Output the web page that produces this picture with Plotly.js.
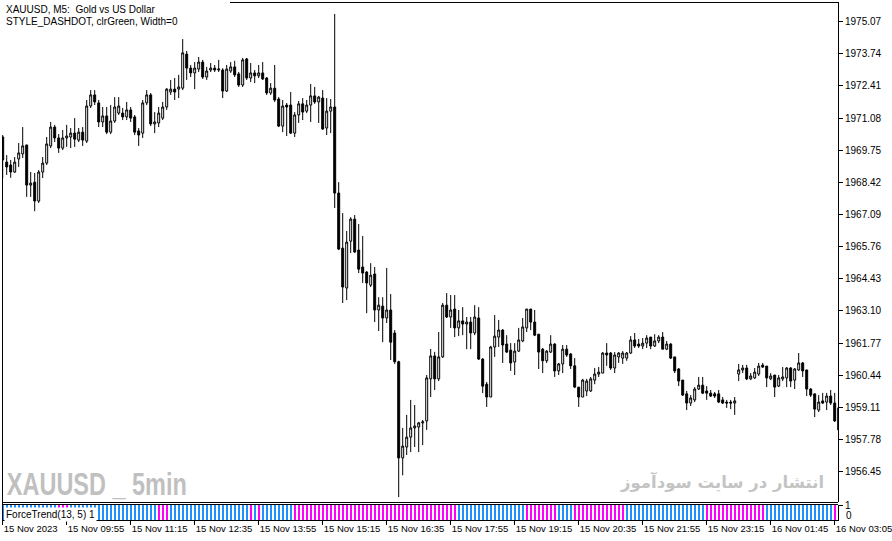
<!DOCTYPE html>
<html><head><meta charset="utf-8">
<script src="https://cdn.plot.ly/plotly-3.0.1.min.js"></script>
<style>html,body{margin:0;padding:0;background:#fff}#chart{width:892px;height:541px}</style>
</head><body><div id="chart"></div><script>
// ---- data (XAUUSD M5) ----
const openP = [
1970.30,1969.26,1969.14,1968.85,1969.39,1969.60,1969.97,1968.31,1968.43,1967.65,
1968.85,1969.22,1969.93,1970.71,1970.26,1969.84,1970.26,1970.30,1970.46,1970.17,
1970.50,1970.13,1971.58,1972.04,1971.71,1970.92,1971.17,1970.50,1970.96,1971.29,
1971.29,1971.13,1971.42,1971.13,1970.55,1970.46,1971.71,1972.04,1970.84,1970.88,
1971.08,1971.54,1972.16,1972.28,1972.28,1972.32,1973.73,1973.15,1972.95,1973.11,
1973.40,1972.78,1973.07,1973.15,1973.07,1973.07,1972.20,1973.03,1973.20,1972.91,
1972.45,1973.53,1972.74,1972.95,1972.83,1972.95,1972.74,1972.12,1972.32,1971.87,
1970.75,1971.62,1971.62,1970.46,1971.21,1971.67,1971.37,1971.62,1972.00,1971.75,
1971.91,1970.67,1971.37,1971.54,1967.98,1965.70,1964.05,1965.99,1966.90,1965.62,
1964.92,1964.71,1964.17,1964.63,1963.14,1963.30,1962.81,1963.14,1962.19,1961.00,
1957.02,1957.47,1957.88,1958.26,1958.30,1958.47,1958.55,1960.29,1961.24,1960.29,
1961.20,1963.34,1962.85,1963.18,1962.40,1962.69,1962.56,1962.64,1962.19,1962.81,
1961.11,1960.07,1959.54,1961.61,1962.02,1962.31,1961.73,1961.48,1960.99,1961.44,
1961.86,1962.40,1963.18,1962.64,1962.14,1961.52,1961.04,1961.40,1961.73,1960.62,
1960.91,1961.52,1961.32,1960.83,1959.95,1959.54,1959.79,1959.79,1960.24,1960.49,
1960.53,1961.36,1961.36,1960.74,1961.20,1961.15,1961.15,1961.36,1961.90,1961.73,
1961.65,1961.77,1962.02,1961.65,1961.86,1962.02,1961.52,1961.73,1961.20,1960.70,
1960.24,1959.67,1959.29,1959.42,1959.87,1960.03,1959.79,1959.70,1959.67,1959.67,
1959.42,1959.33,1959.33,1959.29,1960.49,1960.66,1960.74,1960.29,1960.33,1960.49,
1960.86,1960.82,1960.29,1960.45,1959.99,1960.29,1960.33,1960.74,1960.24,1960.66,
1960.95,1960.66,1959.87,1959.67,1959.00,1959.38,1959.33,1959.58,1959.29,1959.09];
const highP = [
1970.38,1969.55,1969.35,1969.47,1970.05,1970.71,1969.97,1968.85,1968.81,1968.93,
1969.47,1970.30,1970.92,1970.80,1970.42,1970.59,1970.80,1970.67,1971.08,1970.67,
1970.71,1971.83,1972.24,1972.24,1971.83,1971.54,1971.54,1971.62,1971.95,1971.95,
1971.50,1971.75,1971.54,1971.21,1970.67,1971.83,1972.24,1972.12,1971.33,1971.54,
1971.75,1972.32,1972.66,1972.74,1972.87,1974.35,1973.86,1973.28,1973.40,1973.61,
1973.49,1973.20,1973.36,1973.28,1973.49,1973.15,1973.28,1973.40,1973.45,1972.99,
1973.57,1973.57,1973.36,1973.07,1973.28,1973.40,1972.78,1972.53,1973.28,1971.95,
1971.83,1971.71,1972.16,1971.33,1971.79,1971.91,1971.83,1972.49,1972.37,1972.00,
1972.24,1971.91,1971.87,1975.39,1968.43,1967.15,1966.41,1966.98,1967.07,1966.70,
1966.20,1964.75,1965.08,1964.92,1963.67,1963.67,1964.88,1963.80,1962.31,1961.04,
1958.26,1958.80,1959.42,1959.21,1958.51,1958.59,1960.45,1961.53,1961.41,1962.23,
1963.43,1963.84,1963.76,1963.76,1963.14,1963.26,1962.85,1962.85,1963.34,1963.26,
1961.15,1960.16,1961.65,1962.93,1962.73,1962.35,1962.10,1961.77,1961.77,1962.40,
1962.81,1963.18,1963.18,1963.14,1962.14,1961.57,1961.48,1962.10,1961.77,1960.95,
1961.69,1961.69,1961.36,1961.15,1959.95,1960.29,1960.29,1960.37,1960.74,1960.78,
1961.40,1961.77,1961.40,1961.40,1961.40,1961.44,1961.40,1962.06,1962.19,1961.94,
1961.98,1962.10,1962.02,1962.14,1962.10,1962.23,1961.86,1961.77,1961.20,1960.74,
1960.24,1959.79,1959.62,1959.95,1960.37,1960.37,1959.99,1959.83,1959.75,1959.83,
1959.54,1959.42,1959.42,1959.54,1960.91,1960.87,1960.87,1960.53,1960.74,1960.95,
1960.95,1960.82,1960.53,1960.45,1960.45,1960.78,1960.78,1960.78,1960.74,1961.36,
1960.99,1960.66,1959.91,1959.67,1959.62,1959.71,1959.71,1959.83,1959.71,1959.13];
const lowP = [
1968.60,1968.73,1968.61,1968.81,1969.06,1969.43,1967.82,1967.82,1967.23,1967.57,
1968.60,1969.14,1969.84,1970.09,1969.64,1969.76,1969.89,1969.84,1969.89,1970.09,
1969.93,1970.05,1971.50,1971.62,1970.71,1970.71,1970.42,1970.42,1970.88,1971.21,
1971.00,1971.00,1970.92,1970.38,1969.93,1970.26,1971.62,1970.75,1970.46,1970.71,
1971.00,1971.42,1972.04,1971.83,1971.91,1972.24,1972.66,1972.78,1972.28,1972.99,
1972.70,1972.66,1972.99,1972.99,1972.99,1971.91,1972.16,1972.95,1972.78,1972.37,
1972.37,1972.66,1972.57,1972.53,1972.74,1972.66,1972.04,1972.04,1971.75,1970.71,
1970.50,1970.34,1970.42,1970.30,1970.88,1971.00,1971.29,1970.92,1971.67,1970.88,
1970.59,1970.38,1970.46,1967.36,1965.62,1963.43,1963.55,1965.50,1965.50,1964.67,
1964.26,1963.01,1964.09,1962.64,1962.27,1961.81,1962.60,1961.07,1960.91,1955.40,
1956.30,1957.14,1957.26,1957.47,1957.26,1957.55,1958.18,1959.54,1959.83,1960.20,
1961.16,1962.81,1962.40,1962.02,1962.06,1962.10,1961.52,1961.52,1962.10,1961.07,
1959.70,1959.13,1959.54,1961.20,1961.61,1960.95,1961.36,1960.62,1960.45,1961.40,
1961.81,1962.23,1962.31,1962.06,1960.70,1960.53,1960.95,1961.36,1960.37,1960.45,
1960.53,1961.20,1960.70,1959.91,1959.13,1959.54,1959.58,1959.75,1960.07,1960.37,
1960.53,1960.83,1960.66,1960.53,1960.95,1960.91,1961.04,1961.32,1961.57,1961.57,
1961.52,1961.57,1961.52,1961.61,1961.77,1961.52,1961.48,1961.11,1960.53,1959.99,
1959.58,1959.00,1959.17,1959.33,1959.83,1959.67,1959.42,1959.54,1959.50,1959.29,
1959.25,1959.09,1959.04,1958.80,1960.20,1960.53,1960.24,1960.24,1960.29,1960.41,
1960.74,1959.95,1960.24,1959.54,1959.95,1960.20,1959.95,1959.95,1959.87,1960.62,
1960.37,1959.58,1959.54,1958.71,1958.92,1959.25,1959.00,1959.21,1958.51,1957.88];
const closeP = [
1969.35,1969.06,1968.85,1969.26,1969.64,1969.93,1968.31,1968.39,1967.65,1968.85,
1969.22,1970.01,1970.71,1970.26,1969.84,1970.26,1970.34,1970.46,1970.21,1970.50,
1970.17,1971.58,1972.04,1971.75,1970.92,1971.17,1970.50,1970.96,1971.54,1971.58,
1971.13,1971.42,1971.08,1970.50,1970.38,1971.71,1972.04,1970.84,1970.92,1971.29,
1971.54,1972.28,1972.28,1972.16,1972.37,1973.78,1973.15,1972.95,1973.15,1973.40,
1972.78,1973.03,1973.15,1973.07,1973.11,1972.20,1973.11,1973.20,1972.87,1972.45,
1973.49,1972.74,1972.95,1972.83,1972.95,1972.70,1972.12,1972.32,1971.83,1970.75,
1971.58,1971.54,1970.46,1971.21,1971.67,1971.33,1971.62,1972.00,1971.75,1971.95,
1970.63,1971.37,1971.54,1967.98,1965.66,1964.09,1965.95,1966.90,1965.54,1964.83,
1964.67,1964.26,1964.58,1963.14,1963.34,1962.81,1963.14,1961.81,1961.00,1957.02,
1957.51,1957.88,1958.26,1958.34,1958.47,1958.51,1960.33,1961.24,1960.29,1961.20,
1963.34,1962.85,1963.14,1962.40,1962.69,1962.56,1962.64,1962.19,1962.85,1961.11,
1959.99,1959.54,1961.61,1962.06,1962.31,1961.69,1961.40,1960.95,1961.44,1961.90,
1962.44,1963.18,1962.64,1962.10,1961.40,1961.04,1961.44,1961.73,1960.62,1960.91,
1961.52,1961.28,1960.83,1959.95,1959.54,1960.24,1960.20,1960.29,1960.49,1960.57,
1961.36,1961.28,1960.74,1961.28,1961.36,1961.36,1961.36,1961.90,1961.65,1961.65,
1961.77,1961.98,1961.65,1961.86,1962.02,1961.52,1961.73,1961.15,1960.62,1960.20,
1959.62,1959.29,1959.50,1959.87,1960.03,1959.70,1959.70,1959.58,1959.58,1959.33,
1959.29,1959.29,1959.29,1959.38,1960.66,1960.74,1960.29,1960.41,1960.57,1960.82,
1960.78,1960.33,1960.41,1959.95,1960.33,1960.37,1960.74,1960.20,1960.70,1960.95,
1960.62,1959.87,1959.62,1959.04,1959.33,1959.29,1959.58,1959.29,1958.55,1958.18];
// ForceTrend(13,5) state per bar: 1 = up (blue), -1 = down (magenta)
const forceTrend = [
1,1,1,1,1,1,1,1,1,1, 1,1,1,1,-1,-1,-1,1,1,1,
1,1,1,1,1,1,1,1,1,1, 1,1,1,1,1,1,1,1,1,-1,
-1,-1,1,1,1,1,1,1,1,1, 1,1,1,1,1,1,1,1,1,1,
1,1,-1,1,-1,1,1,1,1,1, 1,1,1,-1,-1,-1,-1,-1,-1,-1,
-1,-1,-1,-1,-1,-1,-1,-1,-1,-1, -1,-1,-1,-1,-1,-1,-1,-1,-1,-1,
-1,-1,-1,-1,-1,-1,-1,-1,-1,-1, -1,-1,-1,-1,1,1,1,1,1,1,
1,1,1,1,1,1,1,1,1,1, 1,-1,-1,-1,-1,-1,-1,-1,-1,1,
1,1,1,-1,-1,-1,-1,-1,-1,-1, -1,-1,-1,-1,-1,-1,1,1,1,1,
1,1,1,1,1,1,1,1,1,1, 1,1,1,1,1,1,-1,-1,-1,-1,
-1,-1,-1,-1,-1,-1,-1,-1,-1,-1, -1,1,1,1,1,1,1,1,1,1,
1,1,1,1,1,1,1,1,-1,-1];
const priceTicks = [1975.07,1973.74,1972.41,1971.08,1969.75,1968.42,1967.09,1965.76,1964.43,1963.10,1961.77,1960.44,1959.11,1957.78,1956.45];
const timeTickBars = [0,16,32,48,64,80,96,112,128,144,160,176,192,208];
const timeTickLabels = ['15 Nov 2023','15 Nov 09:55','15 Nov 11:15','15 Nov 12:35','15 Nov 13:55','15 Nov 15:15','15 Nov 16:35','15 Nov 17:55','15 Nov 19:15','15 Nov 20:35','15 Nov 21:55','15 Nov 23:15','16 Nov 01:45','16 Nov 03:05'];

// ---- rendering ----
const bars = openP.map((_, i) => i);
const UP = '#1E90FF', DOWN = '#FF00FF';
const px = x => (x - 2) / 836;      // pixel -> paper (layout helpers)
const py = y => (520 - y) / 518;
const FONT = 'Liberation Sans, Arial, sans-serif';
const WATERMARK = 'XAUUSD _ 5min';

const candles = {
  type: 'candlestick', x: bars, open: openP, high: highP, low: lowP, close: closeP,
  xaxis: 'x', yaxis: 'y', whiskerwidth: 0, hoverinfo: 'skip',
  increasing: {line: {color: '#000', width: 1}, fillcolor: '#fff'},
  decreasing: {line: {color: '#000', width: 1}, fillcolor: '#000'}
};
const trendBars = {
  type: 'bar', x: bars, y: forceTrend.map(Math.abs), xaxis: 'x', yaxis: 'y2',
  width: 0.5, hoverinfo: 'skip',
  marker: {color: forceTrend.map(v => v > 0 ? UP : DOWN), line: {width: 0}}
};

const line = (x0, y0, x1, y1) => ({type: 'line', xref: 'paper', yref: 'paper', x0, y0, x1, y1, line: {color: '#000', width: 1}});

const layout = {
  width: 892, height: 541, margin: {l: 2, r: 54, t: 2, b: 21},
  paper_bgcolor: '#fff', plot_bgcolor: '#fff', showlegend: false,
  xaxis: {
    range: [-0.175, 208.825], tickmode: 'array', tickvals: timeTickBars, ticktext: timeTickLabels,
    ticks: 'outside', ticklen: 4, tickcolor: '#000', showline: true, linecolor: '#000', linewidth: 1,
    showgrid: false, zeroline: false, anchor: 'y2', rangeslider: {visible: false}, tickangle: 0,
    ticklabelposition: 'outside right', ticklabeloverflow: 'allow',
    tickfont: {family: FONT, size: 9.5, color: '#000'}, fixedrange: true
  },
  yaxis: {
    domain: [py(502), 1], range: [1955.196, 1975.885], side: 'right', anchor: 'x',
    tickmode: 'array', tickvals: priceTicks, ticktext: priceTicks.map(v => v.toFixed(2)),
    ticks: 'outside', ticklen: 4, tickcolor: '#000', showline: true, linecolor: '#000', linewidth: 1,
    showgrid: false, zeroline: false, tickfont: {family: FONT, size: 10, color: '#000'}, fixedrange: true
  },
  yaxis2: {
    domain: [0, py(505)], range: [0, 1], side: 'right', anchor: 'x',
    tickmode: 'array', tickvals: [1], ticktext: ['1'],
    ticks: 'outside', ticklen: 4, tickcolor: '#000', showline: true, linecolor: '#000', linewidth: 1,
    showgrid: false, zeroline: false, tickfont: {family: FONT, size: 10, color: '#000'}, fixedrange: true
  },
  bargap: 0,
  shapes: [
    line(px(230), py(2.5), 1, py(2.5)),
    line(px(2.5), 0, px(2.5), py(137)),
    line(0, py(502.5), 1, py(502.5)),
    line(0, py(504.5), 1, py(504.5))
  ],
  annotations: [
    {xref: 'paper', yref: 'paper', x: px(4), y: py(10), xanchor: 'left', yanchor: 'middle', showarrow: false,
     text: 'XAUUSD, M5:\u00a0 Gold vs US Dollar', font: {family: FONT, size: 10, color: '#000'}},
    {xref: 'paper', yref: 'paper', x: px(4), y: py(21), xanchor: 'left', yanchor: 'middle', showarrow: false,
     text: 'STYLE_DASHDOT, clrGreen, Width=0', font: {family: FONT, size: 10, color: '#000'}},
    {xref: 'paper', yref: 'paper', x: px(97), y: py(484), xanchor: 'center', yanchor: 'middle', showarrow: false,
     text: WATERMARK, font: {family: FONT, size: 31, weight: 'bold', color: '#C0C0C0'}},
    {xref: 'paper', yref: 'paper', x: px(826), y: py(482), xanchor: 'right', yanchor: 'middle', showarrow: false,
     text: '<b>انتشار در سایت سودآموز</b>', font: {family: 'DejaVu Sans, sans-serif', size: 16.5, color: '#C4C4C4'}},
    {xref: 'paper', yref: 'paper', x: px(4), y: py(514), xanchor: 'left', yanchor: 'middle', showarrow: false,
     text: 'ForceTrend(13, 5) 1', bgcolor: '#fff', borderpad: 1, font: {family: FONT, size: 10, color: '#000'}},
    {xref: 'paper', yref: 'paper', x: px(844), y: py(515), xanchor: 'left', yanchor: 'middle', showarrow: false,
     text: '0', font: {family: FONT, size: 10, color: '#000'}}
  ]
};

Plotly.newPlot('chart', [candles, trendBars], layout, {staticPlot: true, displayModeBar: false}).then(gd => {
  // condensed look of the bold watermark: squeeze its glyphs horizontally to the reference width
  gd.querySelectorAll('text.annotation-text').forEach(t => {
    if (t.textContent === WATERMARK) {
      t.setAttribute('textLength', '180');
      t.setAttribute('lengthAdjust', 'spacingAndGlyphs');
    }
  });
});
</script></body></html>
